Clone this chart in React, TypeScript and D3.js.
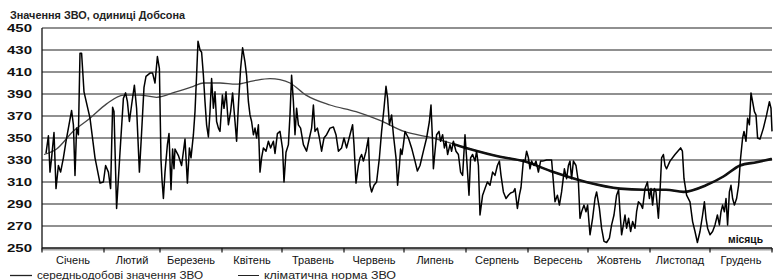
import { useEffect, useRef } from "react";
import * as d3 from "d3";

type Pt = [number, number];

// назви місяців під віссю
const months = [
  "Січень", "Лютий", "Березень", "Квітень", "Травень", "Червень",
  "Липень", "Серпень", "Вересень", "Жовтень", "Листопад", "Грудень",
];
const monthDays = [31, 28, 31, 30, 31, 30, 31, 31, 30, 31, 30, 31];
const yTicks = [250, 270, 290, 310, 330, 350, 370, 390, 410, 430, 450];

// середньодобові значення ЗВО: [день року, од. Добсона]
const dailyZvo: Pt[] = [
  [2, 336], [3.2, 352], [4, 319], [4.8, 332], [6, 355], [7, 304], [8.2, 325], [9.3, 319],
  [10.7, 332], [12, 347], [13.2, 359], [14.8, 375], [15.7, 362], [16.5, 316], [17.3, 359],
  [18.2, 353], [19, 427], [19.8, 427], [21, 392], [24, 368], [26.5, 332], [29, 309],
  [30.7, 310], [31.8, 325], [33.2, 319], [34.3, 304], [35.3, 378], [36, 374], [37.3, 286],
  [39, 337], [40.7, 386], [41.8, 391], [42.7, 383], [43.7, 365], [44.8, 380], [46.2, 398],
  [47.3, 377], [48.7, 319], [49.8, 355], [51, 396], [52, 406], [54, 409], [55.3, 409],
  [56.5, 400], [57.7, 424], [58.7, 413], [59.5, 330], [60, 312], [60.7, 295], [61.5, 319],
  [62.7, 344], [63.5, 354], [64.5, 303], [65.3, 340], [66, 322], [66.5, 340], [68.2, 334],
  [69.8, 325], [71.5, 349], [72.7, 309], [73.7, 341], [74.5, 332], [75.7, 353], [76.5, 374],
  [77.3, 407], [78, 438], [79, 430], [79.8, 428], [80.7, 407], [81.5, 383], [82.3, 362],
  [83.2, 351], [84, 374], [84.8, 404], [85.7, 377], [86.5, 392], [87.3, 365], [88.2, 359],
  [89, 356], [90.2, 389], [91, 377], [92, 392], [93.2, 362], [94.3, 374], [95.3, 391],
  [96.5, 365], [97.3, 347], [98.3, 383], [99.3, 413], [100.3, 432], [101.5, 419],
  [102.3, 407], [103.2, 383], [104, 371], [104.8, 365], [105.7, 353], [106.5, 359],
  [107.3, 350], [108.2, 362], [109, 319], [109.8, 332], [110.7, 341], [112, 338],
  [113.2, 347], [114.3, 341], [115.7, 347], [116.5, 336], [117.7, 354], [119, 356],
  [120.3, 340], [121, 310], [122, 337], [123.2, 344], [124, 371], [124.8, 407], [125.7, 383],
  [126.5, 353], [127.3, 377], [128.2, 362], [129.3, 359], [130.7, 344], [132.3, 338],
  [133.7, 350], [134.8, 359], [135.7, 380], [136.5, 356], [137.7, 359], [138.7, 350],
  [139.8, 338], [141, 350], [142.3, 353], [144, 359], [145.7, 360], [147, 353], [148.2, 338],
  [149.8, 341], [151, 350], [152.3, 341], [154, 353], [155.3, 362], [156, 344], [157, 309],
  [158.2, 325], [159, 332], [159.8, 335], [160.7, 329], [162, 338], [163.2, 350], [164, 307],
  [164.8, 301], [166, 307], [167.3, 310], [168.7, 332], [169.8, 356], [171, 377], [172, 397],
  [172.8, 386], [173.7, 362], [174.8, 371], [175.7, 353], [177, 332], [177.8, 307],
  [178.7, 325], [179.3, 340], [180, 335], [180.7, 344], [181.5, 356], [183.2, 350],
  [184.8, 341], [186.5, 329], [187.7, 320], [189, 325], [190.7, 338], [192.3, 350],
  [193.7, 365], [194.5, 380], [195.2, 350], [195.7, 322], [196.5, 338], [197.3, 353],
  [198.5, 356], [199.3, 347], [200.3, 353], [201.2, 341], [202, 347], [202.8, 335],
  [204, 344], [204.8, 338], [205.7, 347], [207, 338], [208.2, 335], [209.3, 319],
  [210.3, 316], [211.5, 353], [212.3, 332], [213.5, 298], [214.3, 332], [215.3, 335],
  [216.5, 329], [217.3, 338], [218.2, 325], [219, 280], [220.3, 298], [221.5, 304],
  [222.7, 310], [224, 307], [225.3, 319], [226.5, 316], [227.7, 325], [228.7, 329],
  [229.5, 316], [230.7, 301], [232, 295], [233.2, 298], [234.3, 300], [235.7, 301],
  [236.5, 304], [237.7, 286], [238.7, 298], [239.5, 305], [240.7, 330], [241.5, 329],
  [242.3, 338], [243.2, 332], [244, 322], [244.8, 329], [246, 325], [247, 329], [248.2, 319],
  [249.3, 329], [250.3, 329], [252.3, 330], [254.8, 330], [255.7, 310], [256.5, 292],
  [257.7, 298], [258.7, 289], [259.8, 301], [261.2, 322], [262.3, 313], [263.2, 325],
  [264, 329], [264.8, 313], [265.7, 329], [267, 325], [268.2, 310], [269, 277], [269.8, 283],
  [271, 289], [272, 283], [272.8, 289], [274, 262], [275.3, 277], [276.5, 295], [277.3, 301],
  [278.7, 286], [279.8, 268], [281, 256], [282.3, 255], [283.7, 259], [284.8, 271],
  [286, 280], [287.3, 298], [288.3, 303], [289, 283], [289.8, 262], [290.7, 271],
  [291.5, 280], [292.3, 268], [293.3, 277], [294.3, 265], [295.3, 274], [296.5, 268],
  [297.3, 283], [298.2, 292], [299.3, 290], [300.3, 286], [301.5, 304], [302.7, 310],
  [303.7, 295], [304.5, 304], [305.3, 289], [306.2, 304], [307, 301], [308.2, 277],
  [309, 301], [309.8, 332], [310.7, 335], [311.5, 325], [312.3, 322], [314, 329],
  [316.5, 335], [319.3, 341], [320.2, 338], [321, 313], [322.3, 298], [324, 292],
  [325.3, 274], [326.5, 265], [327.7, 255], [329, 265], [330.3, 280], [331.2, 292],
  [332, 277], [332.8, 268], [334, 262], [335.3, 265], [336.5, 271], [337.7, 280],
  [338.7, 271], [339.5, 283], [340.3, 289], [341.2, 283], [342, 295], [342.8, 271],
  [343.7, 301], [344.5, 307], [345.3, 295], [346.2, 289], [347.3, 295], [348.3, 307],
  [349.3, 332], [350.3, 350], [351, 356], [352, 347], [352.8, 368], [353.7, 362],
  [354.5, 391], [355.3, 383], [356.2, 374], [357, 371], [357.8, 350], [359, 349],
  [360.7, 359], [362.3, 371], [363.7, 383], [364.5, 377], [365, 356],
];

// кліматична норма ЗВО
const normZvo: Pt[] = [
  [1, 335], [7.3, 340], [15.5, 356], [24, 368], [32.3, 381], [40.7, 389], [49, 389],
  [57.3, 387], [67, 392], [75.7, 397], [80.7, 400], [89, 400], [97, 399], [105.7, 402],
  [114, 404], [119, 403], [124, 400], [132, 389], [144, 380], [157, 374], [169, 366],
  [181, 356], [195.7, 350], [212, 341], [229, 333], [240.7, 329], [255.7, 319], [272, 310],
  [289, 304], [300.7, 303], [312, 303], [320.7, 301], [332, 307], [340.7, 315], [349, 325],
  [357.3, 328], [365, 331],
];

const FONT = "'Liberation Sans', Arial, sans-serif";

const App = () => {
  const svgRef = useRef<SVGSVGElement | null>(null);

  useEffect(() => {
    if (!svgRef.current) return;
    const W = 773;
    const H = 280;
    const m = { top: 28, left: 42, right: 1, bottom: 32 };
    const width = W - m.left - m.right;
    const height = H - m.top - m.bottom;

    const root = d3.select(svgRef.current);
    root.selectAll("*").remove();
    root.append("rect").attr("width", W).attr("height", H).attr("fill", "#fff");

    const x = d3.scaleLinear().domain([0, 365]).range([m.left, m.left + width]);
    const y = d3.scaleLinear().domain([250, 450]).range([m.top + height, m.top]);

    // заголовок
    root
      .append("text")
      .attr("x", 10)
      .attr("y", 19)
      .attr("font-family", FONT)
      .attr("font-size", 10)
      .attr("font-weight", "bold")
      .attr("fill", "#222")
      .attr("textLength", 175)
      .attr("lengthAdjust", "spacingAndGlyphs")
      .text("Значення ЗВО, одиниці Добсона");

    // горизонтальна сітка
    root
      .append("g")
      .selectAll("line")
      .data(yTicks.filter((t) => t > 250))
      .join("line")
      .attr("x1", m.left)
      .attr("x2", m.left + width)
      .attr("y1", (d) => y(d))
      .attr("y2", (d) => y(d))
      .attr("stroke", "#222")
      .attr("stroke-width", 1.1);

    // підписи осі Y
    root
      .append("g")
      .selectAll("text")
      .data(yTicks)
      .join("text")
      .attr("x", 32)
      .attr("y", (d) => y(d) + 4)
      .attr("text-anchor", "end")
      .attr("font-family", FONT)
      .attr("font-size", 11)
      .attr("font-weight", "bold")
      .attr("fill", "#111")
      .attr("textLength", 25)
      .attr("lengthAdjust", "spacingAndGlyphs")
      .text((d) => d);

    // вісь Y
    root
      .append("line")
      .attr("x1", m.left)
      .attr("x2", m.left)
      .attr("y1", m.top)
      .attr("y2", m.top + height)
      .attr("stroke", "#111")
      .attr("stroke-width", 1.3);

    // вісь X з денними поділками
    const xAxisG = root.append("g");
    xAxisG
      .append("line")
      .attr("x1", m.left)
      .attr("x2", m.left + width)
      .attr("y1", y(250))
      .attr("y2", y(250))
      .attr("stroke", "#111")
      .attr("stroke-width", 1.3);
    xAxisG
      .selectAll("line.day")
      .data(d3.range(0, 366))
      .join("line")
      .attr("class", "day")
      .attr("x1", (d) => x(d))
      .attr("x2", (d) => x(d))
      .attr("y1", y(250))
      .attr("y2", y(250) + 2.5)
      .attr("stroke", "#333")
      .attr("stroke-width", 0.9);
    const monthStart = d3.cumsum([0, ...monthDays]);
    xAxisG
      .selectAll("line.month")
      .data(Array.from(monthStart))
      .join("line")
      .attr("class", "month")
      .attr("x1", (d) => x(d))
      .attr("x2", (d) => x(d))
      .attr("y1", y(250))
      .attr("y2", y(250) + 4.5)
      .attr("stroke", "#111")
      .attr("stroke-width", 1.2);

    // назви місяців
    root
      .append("g")
      .selectAll("text")
      .data(months)
      .join("text")
      .attr("x", (_, i) => x(monthStart[i] + monthDays[i] / 2))
      .attr("y", 264)
      .attr("text-anchor", "middle")
      .attr("font-family", FONT)
      .attr("font-size", 11)
      .attr("fill", "#111")
      .text((d) => d);

    // кліматична норма
    const normLine = d3
      .line<Pt>()
      .x((d) => x(d[0]))
      .y((d) => y(d[1]))
      .curve(d3.curveMonotoneX);
    root
      .append("path")
      .datum(normZvo)
      .attr("fill", "none")
      .attr("stroke", "#444")
      .attr("stroke-width", 1.3)
      .attr("d", normLine);

    // друга половина норми жирніша
    root
      .append("clipPath")
      .attr("id", "normClip")
      .append("rect")
      .attr("x", x(205))
      .attr("y", 0)
      .attr("width", W)
      .attr("height", H);
    root
      .append("path")
      .datum(normZvo)
      .attr("fill", "none")
      .attr("stroke", "#111")
      .attr("stroke-width", 2.6)
      .attr("clip-path", "url(#normClip)")
      .attr("d", normLine);

    // середньодобові значення
    const dailyLine = d3
      .line<Pt>()
      .x((d) => x(d[0]))
      .y((d) => y(d[1]));
    root
      .append("path")
      .datum(dailyZvo)
      .attr("fill", "none")
      .attr("stroke", "#000")
      .attr("stroke-width", 1.5)
      .attr("stroke-linejoin", "round")
      .attr("d", dailyLine);

    // підпис осі X
    root
      .append("text")
      .attr("x", 728)
      .attr("y", 243)
      .attr("font-family", FONT)
      .attr("font-size", 10)
      .attr("font-weight", "bold")
      .attr("fill", "#111")
      .attr("textLength", 35)
      .attr("lengthAdjust", "spacingAndGlyphs")
      .text("місяць");

    // легенда
    const legend = [
      { x1: 10, x2: 32, tx: 37, tw: 166, w: 1.3, label: "середньодобові значення ЗВО" },
      { x1: 238, x2: 259, tx: 264, tw: 132, w: 1, label: "кліматична норма ЗВО" },
    ];
    const lg = root.append("g").selectAll("g").data(legend).join("g");
    lg.append("line")
      .attr("x1", (d) => d.x1)
      .attr("x2", (d) => d.x2)
      .attr("y1", 275.5)
      .attr("y2", 275.5)
      .attr("stroke", "#222")
      .attr("stroke-width", (d) => d.w);
    lg.append("text")
      .attr("x", (d) => d.tx)
      .attr("y", 279)
      .attr("font-family", FONT)
      .attr("font-size", 10)
      .attr("fill", "#222")
      .attr("textLength", (d) => d.tw)
      .attr("lengthAdjust", "spacingAndGlyphs")
      .text((d) => d.label);
  }, []);

  return (
    <svg
      ref={svgRef}
      width={773}
      height={280}
      style={{ position: "absolute", left: 0, top: 0, display: "block" }}
    ></svg>
  );
};

export default App;
